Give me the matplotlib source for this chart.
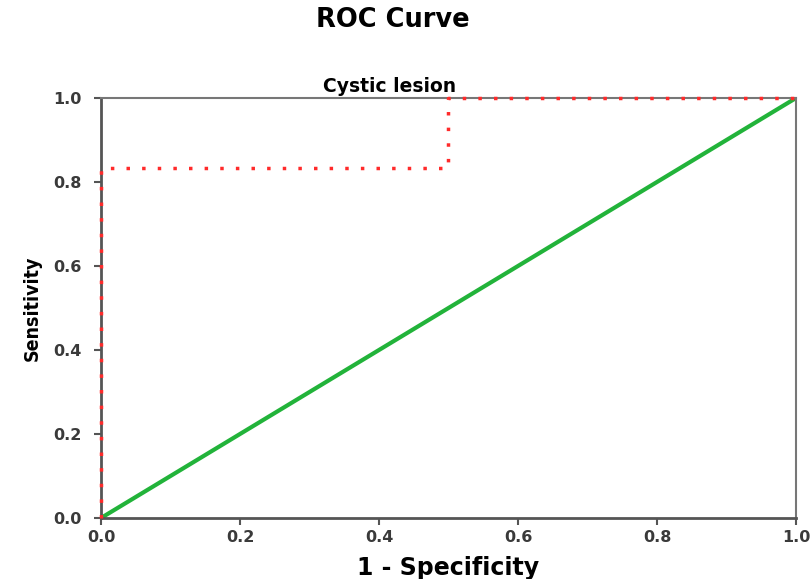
import matplotlib
matplotlib.use("Agg")
import matplotlib.pyplot as plt

# ROC points for cystic lesion
fpr = [0.0, 0.0, 0.5, 0.5, 1.0]
tpr = [0.0, 0.833, 0.833, 1.0, 1.0]
ref_line = [0.0, 1.0]
ticks = [0.0, 0.2, 0.4, 0.6, 0.8, 1.0]
tick_labels = ["0.0", "0.2", "0.4", "0.6", "0.8", "1.0"]

# the original is stretched sideways, so use the wider DejaVu face
plt.rcParams['font.family'] = ['DejaVu Sans']

fig = plt.figure(figsize=(8.12, 5.79), dpi=100)
ax = fig.add_axes([101/812, 1-518/579, 695/812, 420/579])

ax.plot(ref_line, ref_line, color="#22b33a", lw=3, zorder=2)
ax.plot(fpr, tpr, color="#ff2a2a", lw=2.5, linestyle=(0, (1, 3.5)), zorder=3, clip_on=False)

ax.set_xlim(0, 1)
ax.set_ylim(0, 1)
ax.set_xticks(ticks)
ax.set_xticklabels(tick_labels)
ax.set_yticks(ticks)
ax.set_yticklabels(tick_labels)
ax.tick_params(direction="out", length=5, width=1.5, colors="#555555", labelsize=11.5, labelcolor="#3a3a3a")
ax.tick_params(axis="y", pad=9)
for lbl in ax.get_xticklabels() + ax.get_yticklabels():
    lbl.set_fontweight("semibold")

for side in ["left", "bottom"]:
    ax.spines[side].set_color("#555555")
    ax.spines[side].set_linewidth(2)
for side in ["top", "right"]:
    ax.spines[side].set_color("#777777")
    ax.spines[side].set_linewidth(1.5)

ax.set_xlabel("1 - Specificity", fontsize=17, fontweight="bold", labelpad=8)
ax.set_ylabel("Sensitivity", fontsize=14, fontweight="bold", labelpad=8,
              fontstretch="condensed")

fig.text(393/812, 1-20/579, "ROC Curve", ha="center", va="center", fontsize=18.5, fontweight="bold")
fig.text(390/812, 1-86/579, "Cystic lesion", ha="center", va="center", fontsize=13.5, fontweight="bold")

fig.savefig("out.png", dpi=100)
